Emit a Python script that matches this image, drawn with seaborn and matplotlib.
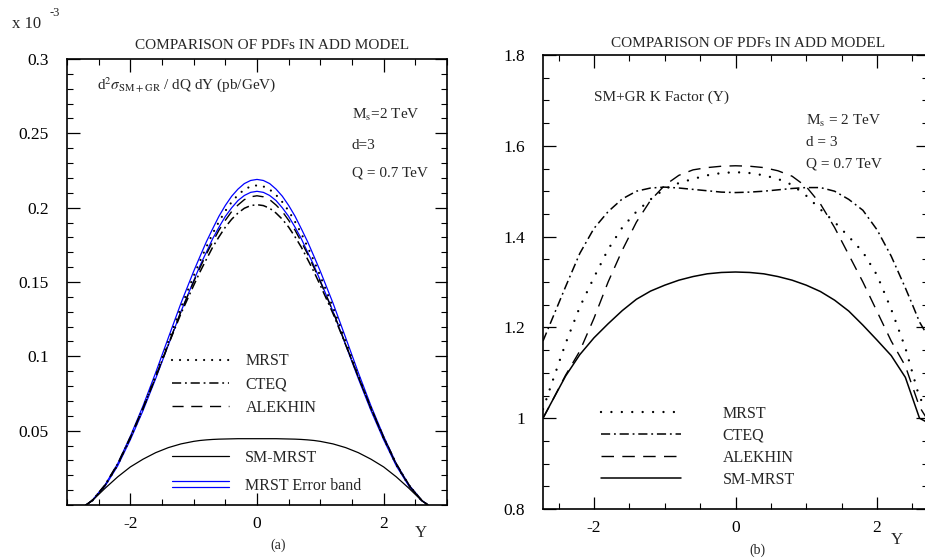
import numpy as np
import pandas as pd
import matplotlib
matplotlib.use("Agg")
import matplotlib.pyplot as plt
import seaborn as sns
from matplotlib.lines import Line2D
from matplotlib.legend_handler import HandlerBase
from matplotlib.ticker import FixedLocator, MultipleLocator, FormatStrFormatter

# ---- panel (a): d2sigma/dQdY in units of 1e-3 pb/GeV ----
y_a = [-2.7, -2.6, -2.4, -2.2, -2.0, -1.8, -1.6, -1.4, -1.2, -1.0, -0.9, -0.8, -0.7, -0.6, -0.5,
       -0.4, -0.3, -0.2, -0.1, 0.0, 0.1, 0.2, 0.3, 0.4, 0.5, 0.6, 0.7, 0.8, 0.9, 1.0,
       1.2, 1.4, 1.6, 1.8, 2.0, 2.2, 2.4, 2.6, 2.7]
mrst_a = [0, .003, .013, .027, .045, .065, .087, .110, .133, .154, .1641, .1735, .1826, .1906, .1978,
          .2038, .2086, .2122, .2143, .215, .2143, .2122, .2086, .2038, .1978, .1906, .1826, .1735, .1641, .154,
          .133, .110, .087, .065, .045, .027, .013, .003, 0]
band_hi = [0, .0032, .0135, .0278, .0462, .0666, .0890, .1125, .1358, .1572, .1672, .1770, .1858, .1943, .2015,
           .2077, .2125, .2162, .2183, .219, .2183, .2162, .2125, .2077, .2015, .1943, .1858, .1770, .1672, .1572,
           .1358, .1125, .0890, .0666, .0462, .0278, .0135, .0032, 0]
band_lo = [0, .0029, .0126, .0263, .0439, .0635, .0850, .1076, .1302, .1508, .1610, .1700, .1791, .1869, .1941,
           .1999, .2048, .2082, .2103, .211, .2103, .2082, .2048, .1999, .1941, .1869, .1791, .1700, .1610, .1508,
           .1302, .1076, .0850, .0635, .0439, .0263, .0126, .0029, 0]
alek_a = [0, .0030, .0131, .0272, .0451, .0648, .0861, .1082, .1302, .1502, .1596, .1687, .1770, .1849, .1915,
          .1974, .2018, .2054, .2073, .208, .2073, .2054, .2018, .1974, .1915, .1849, .1770, .1687, .1596, .1502,
          .1302, .1082, .0861, .0648, .0451, .0272, .0131, .0030, 0]
cteq_a = [0, .0032, .0135, .0277, .0456, .0652, .0862, .1078, .1288, .1477, .1568, .1652, .1734, .1804, .1869,
          .1922, .1964, .1996, .2014, .202, .2014, .1996, .1964, .1922, .1869, .1804, .1734, .1652, .1568, .1477,
          .1288, .1078, .0862, .0652, .0456, .0277, .0135, .0032, 0]
sm_a = [0, .003, .0112, .0189, .0256, .0308, .0352, .0386, .0411, .0428, .0434, .0438, .0441, .0443, .0444,
        .0445, .0446, .0446, .0446, .0446, .0446, .0446, .0446, .0445, .0444, .0443, .0441, .0438, .0434, .0428,
        .0411, .0386, .0352, .0308, .0256, .0189, .0112, .003, 0]

# ---- panel (b): K factor ----
y_b = [-2.72, -2.6, -2.4, -2.2, -2.0, -1.8, -1.6, -1.4, -1.2, -1.0, -0.8, -0.6, -0.4, -0.2, 0.0,
       0.2, 0.4, 0.6, 0.8, 1.0, 1.2, 1.4, 1.6, 1.8, 2.0, 2.2, 2.4, 2.5, 2.6, 2.72]
mrst_b = [1.02, 1.075, 1.165, 1.245, 1.31, 1.372, 1.42, 1.455, 1.482, 1.505, 1.518, 1.527, 1.535, 1.540, 1.542,
          1.540, 1.535, 1.527, 1.514, 1.49, 1.46, 1.432, 1.40, 1.366, 1.315, 1.24, 1.155, 1.10, 1.045, 1.02]
cteq_b = [1.17, 1.215, 1.29, 1.363, 1.418, 1.455, 1.483, 1.50, 1.507, 1.509, 1.507, 1.504, 1.501, 1.498, 1.497,
          1.498, 1.50, 1.503, 1.506, 1.508, 1.508, 1.50, 1.482, 1.458, 1.415, 1.357, 1.287, 1.25, 1.212, 1.18]
alek_b = [1.0, 1.035, 1.095, 1.148, 1.22, 1.30, 1.37, 1.432, 1.48, 1.513, 1.535, 1.547, 1.552, 1.555, 1.556,
          1.555, 1.552, 1.545, 1.533, 1.51, 1.472, 1.42, 1.36, 1.30, 1.235, 1.17, 1.115, 1.07, 1.025, 0.995]
sm_b = [1.0, 1.035, 1.093, 1.14, 1.177, 1.208, 1.237, 1.262, 1.28, 1.293, 1.304, 1.312, 1.318, 1.321, 1.322,
        1.321, 1.318, 1.312, 1.304, 1.293, 1.279, 1.26, 1.236, 1.205, 1.172, 1.138, 1.09, 1.045, 1.0, 0.99]

legend_names = ["MRST", "CTEQ", "ALEKHIN", "SM-MRST", "MRST Error band"]

sns.set_theme(style="ticks")
plt.rcParams['font.family'] = ['Liberation Serif', 'DejaVu Serif']
plt.rcParams['mathtext.fontset'] = 'stix'
plt.rcParams['axes.unicode_minus'] = False


class HandlerDouble(HandlerBase):
    # two parallel lines for the error band key
    def create_artists(self, legend, orig_handle, xdescent, ydescent, width, height, fontsize, trans):
        out = []
        for f in (0.25, 0.8):
            ln = Line2D([-xdescent, -xdescent + width], [-ydescent + height * f] * 2,
                        color=orig_handle.get_color(), lw=orig_handle.get_linewidth(), transform=trans)
            out.append(ln)
        return out


def style_axes(ax):
    ax.tick_params(which='both', direction='in', top=True, right=True, colors='black',
                   labelsize=12.5)
    ax.tick_params(which='major', length=9, width=0.9)
    ax.tick_params(which='minor', length=4.5, width=0.8)
    ax.tick_params(axis='y', pad=13)
    ax.tick_params(axis='x', pad=8)
    for sp in ax.spines.values():
        sp.set_visible(True)
        sp.set_linewidth(1.2)
        sp.set_color('black')
    ax.set_xlabel('')
    ax.set_ylabel('')


fig = plt.figure(figsize=(9.25, 5.6), dpi=100)
fig.patch.set_facecolor('white')
ax1 = fig.add_axes([67 / 925, 1 - 505 / 560, 380 / 925, 446 / 560])
ax2 = fig.add_axes([543 / 925, 1 - 509 / 560, 385 / 925, 454 / 560])

dashdot = (0, (6, 2.5, 1.2, 2.5))

# panel (a)
sns.lineplot(x=y_a, y=band_hi, ax=ax1, color='blue', lw=0.9, legend=False)
sns.lineplot(x=y_a, y=band_lo, ax=ax1, color='blue', lw=0.9, legend=False)
sns.lineplot(x=y_a, y=mrst_a, ax=ax1, color='black', lw=1.6, linestyle=(0, (0.01, 3.6)),
             dash_capstyle='round', legend=False)
sns.lineplot(x=y_a, y=cteq_a, ax=ax1, color='black', lw=1.1, linestyle=dashdot, legend=False)
sns.lineplot(x=y_a, y=alek_a, ax=ax1, color='black', lw=1.0, linestyle=(0, (8, 5.5)), legend=False)
sns.lineplot(x=y_a, y=sm_a, ax=ax1, color='black', lw=0.9, legend=False)
ax1.set_xlim(-3, 3)
ax1.set_ylim(0, 0.3)
ax1.xaxis.set_major_locator(FixedLocator([-2, 0, 2]))
ax1.xaxis.set_minor_locator(MultipleLocator(0.5))
ax1.yaxis.set_major_locator(FixedLocator([0.05, 0.1, 0.15, 0.2, 0.25, 0.3]))
ax1.yaxis.set_minor_locator(MultipleLocator(0.01))
ax1.yaxis.set_major_formatter(FormatStrFormatter('%g'))
style_axes(ax1)

la = ax1.lines
leg1 = ax1.legend([la[2], la[3], la[4]], legend_names[:3], loc='center left',
                  bbox_to_anchor=(0.255, 0.27), frameon=False, fontsize=11.5,
                  handlelength=3.6, handletextpad=1.0, labelspacing=0.45, borderpad=0)
ax1.add_artist(leg1)
ax1.legend([la[5], la[0]], legend_names[3:], loc='center left',
           bbox_to_anchor=(0.255, 0.075), frameon=False, fontsize=11.5,
           handlelength=3.6, handletextpad=1.0, labelspacing=0.75, borderpad=0,
           handler_map={la[0]: HandlerDouble()})

ax1.text(0.54, 1.03, "COMPARISON OF PDFs IN ADD MODEL", transform=ax1.transAxes,
         ha='center', va='center', fontsize=11)
ax1.text(0.078, 0.942, r"d$^2\sigma_{\rm SM+GR}$ / dQ dY (pb/GeV)", transform=ax1.transAxes,
         ha='left', va='center', fontsize=11)
ax1.text(0.75, 0.874, r"M$_{\rm s}$=2 TeV", transform=ax1.transAxes, ha='left', va='center', fontsize=11)
ax1.text(0.75, 0.805, "d=3", transform=ax1.transAxes, ha='left', va='center', fontsize=11)
ax1.text(0.75, 0.744, "Q = 0.7 TeV", transform=ax1.transAxes, ha='left', va='center', fontsize=11)

# panel (b)
sns.lineplot(x=y_b, y=mrst_b, ax=ax2, color='black', lw=1.7, linestyle=(0, (0.01, 4.4)),
             dash_capstyle='round', legend=False)
sns.lineplot(x=y_b, y=cteq_b, ax=ax2, color='black', lw=1.1, linestyle=dashdot, legend=False)
sns.lineplot(x=y_b, y=alek_b, ax=ax2, color='black', lw=1.0, linestyle=(0, (9, 6)), legend=False)
sns.lineplot(x=y_b, y=sm_b, ax=ax2, color='black', lw=1.1, legend=False)
ax2.set_xlim(-2.72, 2.72)
ax2.set_ylim(0.8, 1.8)
ax2.xaxis.set_major_locator(FixedLocator([-2, 0, 2]))
ax2.xaxis.set_minor_locator(MultipleLocator(0.5))
ax2.yaxis.set_major_locator(MultipleLocator(0.2))
ax2.yaxis.set_minor_locator(MultipleLocator(0.05))
ax2.yaxis.set_major_formatter(FormatStrFormatter('%g'))
style_axes(ax2)

lb = ax2.lines
ax2.legend(lb[:4], legend_names[:4], loc='center left', bbox_to_anchor=(0.13, 0.137),
           frameon=False, fontsize=11.5, handlelength=5.0, handletextpad=2.6,
           labelspacing=0.38, borderpad=0)

ax2.text(0.532, 1.025, "COMPARISON OF PDFs IN ADD MODEL", transform=ax2.transAxes,
         ha='center', va='center', fontsize=11)
ax2.text(0.132, 0.907, "SM+GR K Factor (Y)", transform=ax2.transAxes, ha='left', va='center', fontsize=11)
ax2.text(0.683, 0.855, r"M$_{\rm s}$ = 2 TeV", transform=ax2.transAxes, ha='left', va='center', fontsize=11)
ax2.text(0.683, 0.808, "d = 3", transform=ax2.transAxes, ha='left', va='center', fontsize=11)
ax2.text(0.683, 0.76, "Q = 0.7 TeV", transform=ax2.transAxes, ha='left', va='center', fontsize=11)

# figure-level labels
fig.text(12 / 925, 1 - 24 / 560, "x 10", ha='left', va='center', fontsize=12)
fig.text(50 / 925, 1 - 13 / 560, "-3", ha='left', va='center', fontsize=9)
fig.text(278 / 925, 1 - 545 / 560, "(a)", ha='center', va='center', fontsize=10)
fig.text(421 / 925, 1 - 533 / 560, "Y", ha='center', va='center', fontsize=12)
fig.text(757 / 925, 1 - 550 / 560, "(b)", ha='center', va='center', fontsize=10)
fig.text(897 / 925, 1 - 540 / 560, "Y", ha='center', va='center', fontsize=12)

fig.savefig("out.png", dpi=100, facecolor='white')
